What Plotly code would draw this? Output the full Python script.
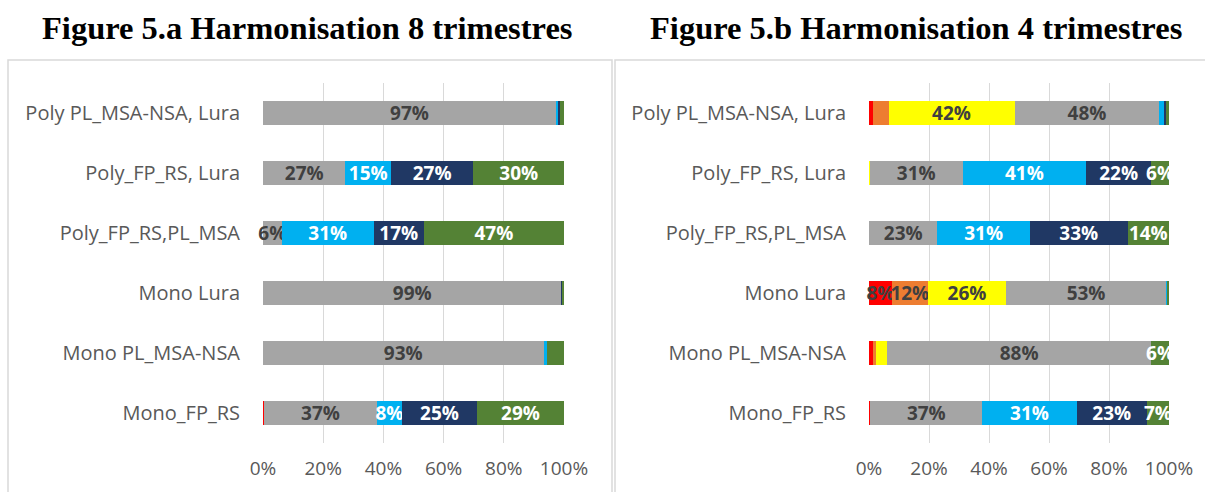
import plotly.graph_objects as go

categories = ["Poly PL_MSA-NSA, Lura", "Poly_FP_RS, Lura", "Poly_FP_RS,PL_MSA",
              "Mono Lura", "Mono PL_MSA-NSA", "Mono_FP_RS"]
series_names = ["Série 1", "Série 2", "Série 3", "Série 4", "Série 5", "Série 6", "Série 7"]
tick_values = [0, 20, 40, 60, 80, 100]
tick_labels = ["0%", "20%", "40%", "60%", "80%", "100%"]
titles = ["Figure 5.a Harmonisation 8 trimestres", "Figure 5.b Harmonisation 4 trimestres"]

# Figure 5.a (8 trimestres), percentages
a_red = [0, 0, 0, 0, 0, 0.4]
a_orange = [0, 0, 0, 0, 0, 0]
a_yellow = [0, 0, 0, 0, 0, 0]
a_gray = [97.3, 27.4, 6.2, 99.2, 93.2, 37.4]
a_blue = [0.9, 15.1, 30.6, 0, 1.0, 8.4]
a_navy = [0.4, 27.4, 16.6, 0.4, 0, 24.9]
a_green = [1.4, 30.1, 46.6, 0.4, 5.8, 28.9]

# Figure 5.b (4 trimestres), percentages
b_red = [1.3, 0, 0, 7.6, 1.2, 0.4]
b_orange = [5.2, 0, 0, 12.0, 1.0, 0]
b_yellow = [42.0, 0.3, 0, 26.1, 3.9, 0]
b_gray = [48.3, 30.9, 22.8, 53.3, 87.9, 37.4]
b_blue = [1.7, 41.2, 30.8, 0.6, 0, 31.4]
b_navy = [0.6, 21.6, 32.6, 0, 0, 23.4]
b_green = [0.9, 6.0, 13.8, 0.4, 6.0, 7.4]

colors = ["#FF0000", "#ED7D31", "#FFFF00", "#A5A5A5", "#00B0F0", "#203864", "#548235"]
label_colors = ["#404040", "#404040", "#404040", "#404040", "#FFFFFF", "#FFFFFF", "#FFFFFF"]

chart_a = [a_red, a_orange, a_yellow, a_gray, a_blue, a_navy, a_green]
chart_b = [b_red, b_orange, b_yellow, b_gray, b_blue, b_navy, b_green]

fig = go.Figure()

for ci, (chart, xa, ya) in enumerate([(chart_a, "x", "y"), (chart_b, "x2", "y2")]):
    for si, vals in enumerate(chart):
        texts = [f"{round(v)}%" if v >= 6 else "" for v in vals]
        fig.add_trace(go.Bar(
            y=categories, x=vals, orientation="h", name=series_names[si],
            marker=dict(color=colors[si], line=dict(width=0)),
            width=0.4,
            text=texts, textposition="inside", insidetextanchor="middle",
            constraintext="none", textangle=0,
            textfont=dict(family="Open Sans", size=19, weight="bold", color=label_colors[si]),
            xaxis=xa, yaxis=ya, showlegend=False, hoverinfo="skip", cliponaxis=False,
        ))

W, H = 1205, 492
ydom = [1 - 443 / H, 1 - 83 / H]
axis_common = dict(range=[0, 100], tickmode="array", tickvals=tick_values, ticktext=tick_labels,
                   showgrid=True, gridcolor="#D9D9D9", gridwidth=1, zeroline=False,
                   showline=False, ticks="", ticklabelstandoff=12, automargin=False,
                   tickfont=dict(family="Open Sans", size=19, color="#595959"), fixedrange=True)
yaxis_common = dict(autorange="reversed", showgrid=False, zeroline=False, showline=False,
                    ticks="", ticklabelstandoff=22, automargin=False,
                    tickfont=dict(family="Open Sans", size=20, color="#595959"), fixedrange=True)

fig.update_layout(
    width=W, height=H, autosize=False,
    margin=dict(l=0, r=0, t=0, b=0, pad=0, autoexpand=False),
    paper_bgcolor="white", plot_bgcolor="white", barmode="stack",
    xaxis=dict(domain=[263 / W, 564 / W], anchor="y", **axis_common),
    yaxis=dict(domain=ydom, anchor="x", **yaxis_common),
    xaxis2=dict(domain=[869 / W, 1169 / W], anchor="y2", **axis_common),
    yaxis2=dict(domain=ydom, anchor="x2", **yaxis_common),
    shapes=[
        dict(type="rect", xref="paper", yref="paper", x0=8 / W, x1=612 / W, y0=-0.02, y1=1 - 60 / H,
             line=dict(color="#D9D9D9", width=1.5), fillcolor="rgba(0,0,0,0)", layer="below"),
        dict(type="rect", xref="paper", yref="paper", x0=615 / W, x1=1.02, y0=-0.02, y1=1 - 60 / H,
             line=dict(color="#D9D9D9", width=1.5), fillcolor="rgba(0,0,0,0)", layer="below"),
    ],
    annotations=[
        dict(text=f"<b>{titles[0]}</b>", xref="paper", yref="paper", x=307 / W, y=1 - 28 / H,
             xanchor="center", yanchor="middle", showarrow=False,
             font=dict(family="Liberation Serif", size=32.5, color="black")),
        dict(text=f"<b>{titles[1]}</b>", xref="paper", yref="paper", x=916 / W, y=1 - 28 / H,
             xanchor="center", yanchor="middle", showarrow=False,
             font=dict(family="Liberation Serif", size=32.5, color="black")),
    ],
)

post = ("document.body.style.margin='0';document.body.style.padding='0';"
        "document.documentElement.style.overflow='hidden';document.body.style.overflow='hidden';")
fig.write_html("out.html", post_script=post, config={"responsive": False, "displayModeBar": False})
